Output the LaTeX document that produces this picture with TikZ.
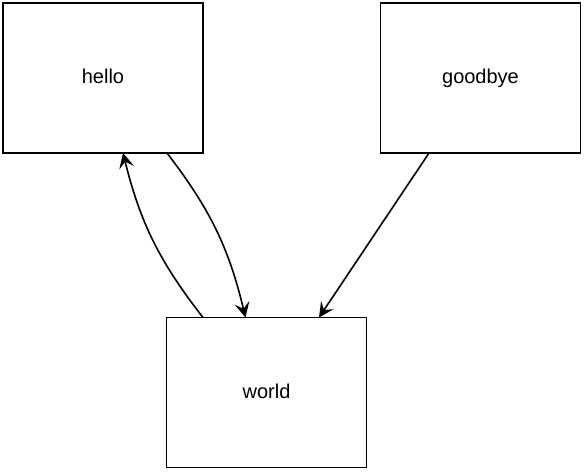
\documentclass[tikz,border=0pt]{standalone}
\usepackage{fontspec}
\setmainfont{Liberation Sans}
\usetikzlibrary{arrows.meta}
\begin{document}
\begin{tikzpicture}[x=1pt,y=-1pt,
  box/.style={draw,line width=1.6pt,minimum width=200pt,minimum height=150pt,inner sep=0pt,text depth=3pt,font=\fontsize{20}{24}\selectfont},
  conn/.style={line width=1.6pt,-{Stealth[length=15pt,width=15pt,inset=6pt]}}]
\useasboundingbox (0,0) rectangle (584,472);
\node[box] (hello) at (103,78) {hello};
\node[box] (goodbye) at (480.5,78) {goodbye};
\node[box] (world) at (266.5,392.5) {world};
\coordinate (h1) at (167,153);
\coordinate (h2) at (123,153);
\coordinate (w1) at (245.5,317.5);
\coordinate (w2) at (203,317.5);
\coordinate (g1) at (429,153);
\coordinate (w3) at (319,317.5);
\draw[conn] (h1) to[bend left=12] (w1);
\draw[conn] (w2) to[bend left=12] (h2);
\draw[conn] (g1) -- (w3);
\end{tikzpicture}
\end{document}
